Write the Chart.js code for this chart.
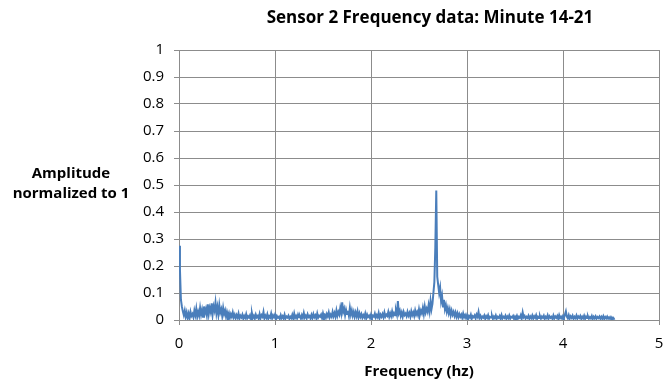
<!DOCTYPE html>
<html>
<head>
<meta charset="utf-8">
<script src="https://cdn.jsdelivr.net/npm/chart.js@4"></script>
<style>
  html, body { margin: 0; padding: 0; background: #fff; }
  #wrap { width: 667px; height: 383px; position: relative; }
</style>
</head>
<body>
<div id="wrap"><canvas id="freqChart"></canvas></div>
<script>
const CHART_TITLE = 'Sensor 2 Frequency data: Minute 14-21';
const Y_TITLE = ['Amplitude', 'normalized to 1'];
const X_TITLE = 'Frequency (hz)';

const X_TICKS = [0, 1, 2, 3, 4, 5];
const Y_TICKS = [0, 0.1, 0.2, 0.3, 0.4, 0.5, 0.6, 0.7, 0.8, 0.9, 1];

// spacing between frequency bins (hz)
const FREQ_STEP = 0.01;

// amplitude per bin, one array per 1 hz band
const AMP_0_1 = [
  0.275, 0.185, 0.075, 0.05, 0.032, 0.018, 0.035, 0.012, 0.028, 0.008,
  0.024, 0.006, 0.03, 0.015, 0.022, 0.01, 0.035, 0.018, 0.042, 0.012,
  0.03, 0.016, 0.045, 0.02, 0.038, 0.012, 0.05, 0.025, 0.04, 0.018,
  0.058, 0.022, 0.045, 0.03, 0.062, 0.02, 0.05, 0.035, 0.065, 0.025,
  0.048, 0.02, 0.055, 0.028, 0.04, 0.015, 0.045, 0.022, 0.035, 0.012,
  0.03, 0.015, 0.026, 0.008, 0.022, 0.012, 0.028, 0.01, 0.02, 0.006,
  0.018, 0.009, 0.024, 0.005, 0.016, 0.01, 0.02, 0.004, 0.015, 0.008,
  0.022, 0.006, 0.014, 0.009, 0.018, 0.004, 0.025, 0.008, 0.016, 0.005,
  0.02, 0.01, 0.015, 0.004, 0.022, 0.007, 0.018, 0.012, 0.03, 0.006,
  0.016, 0.008, 0.021, 0.004, 0.014, 0.009, 0.024, 0.006, 0.017, 0.01
];
const AMP_1_2 = [
  0.02, 0.005, 0.015, 0.008, 0.012, 0.004, 0.018, 0.007, 0.014, 0.005,
  0.02, 0.006, 0.013, 0.009, 0.016, 0.004, 0.012, 0.007, 0.019, 0.005,
  0.024, 0.008, 0.015, 0.006, 0.02, 0.01, 0.014, 0.005, 0.018, 0.008,
  0.026, 0.009, 0.016, 0.006, 0.021, 0.011, 0.015, 0.005, 0.019, 0.008,
  0.022, 0.01, 0.017, 0.006, 0.024, 0.009, 0.016, 0.012, 0.02, 0.007,
  0.025, 0.011, 0.018, 0.008, 0.022, 0.013, 0.028, 0.01, 0.02, 0.012,
  0.03, 0.014, 0.026, 0.012, 0.035, 0.016, 0.03, 0.02, 0.045, 0.025,
  0.065, 0.03, 0.042, 0.018, 0.038, 0.022, 0.034, 0.015, 0.045, 0.02,
  0.036, 0.016, 0.03, 0.012, 0.028, 0.014, 0.032, 0.01, 0.025, 0.012,
  0.022, 0.008, 0.018, 0.01, 0.024, 0.006, 0.02, 0.011, 0.016, 0.007
];
const AMP_2_3 = [
  0.02, 0.008, 0.016, 0.012, 0.024, 0.009, 0.018, 0.01, 0.026, 0.008,
  0.02, 0.012, 0.022, 0.01, 0.028, 0.013, 0.02, 0.015, 0.03, 0.012,
  0.025, 0.014, 0.032, 0.016, 0.026, 0.018, 0.035, 0.02, 0.07, 0.025,
  0.035, 0.015, 0.028, 0.012, 0.03, 0.018, 0.024, 0.014, 0.03, 0.016,
  0.026, 0.012, 0.032, 0.018, 0.028, 0.015, 0.035, 0.02, 0.03, 0.018,
  0.04, 0.02, 0.035, 0.025, 0.045, 0.022, 0.05, 0.028, 0.042, 0.03,
  0.055, 0.032, 0.07, 0.04, 0.06, 0.1, 0.14, 0.27, 0.48, 0.16,
  0.13, 0.1, 0.12, 0.07, 0.09, 0.05, 0.075, 0.04, 0.055, 0.03,
  0.045, 0.025, 0.04, 0.018, 0.035, 0.02, 0.03, 0.015, 0.028, 0.012,
  0.025, 0.01, 0.022, 0.012, 0.02, 0.008, 0.024, 0.01, 0.018, 0.007
];
const AMP_3_4 = [
  0.018, 0.006, 0.015, 0.009, 0.02, 0.005, 0.014, 0.01, 0.017, 0.006,
  0.02, 0.012, 0.03, 0.008, 0.016, 0.005, 0.013, 0.009, 0.017, 0.004,
  0.014, 0.008, 0.018, 0.005, 0.012, 0.009, 0.016, 0.004, 0.013, 0.007,
  0.017, 0.005, 0.012, 0.008, 0.015, 0.004, 0.018, 0.006, 0.012, 0.008,
  0.016, 0.004, 0.013, 0.007, 0.017, 0.005, 0.012, 0.009, 0.015, 0.004,
  0.013, 0.007, 0.016, 0.005, 0.012, 0.008, 0.018, 0.006, 0.028, 0.01,
  0.015, 0.005, 0.012, 0.008, 0.016, 0.004, 0.013, 0.007, 0.017, 0.005,
  0.014, 0.008, 0.018, 0.004, 0.012, 0.007, 0.015, 0.005, 0.013, 0.008,
  0.016, 0.004, 0.012, 0.007, 0.018, 0.005, 0.014, 0.008, 0.012, 0.004,
  0.017, 0.006, 0.013, 0.008, 0.015, 0.004, 0.018, 0.007, 0.012, 0.005
];
const AMP_4_5 = [
  0.015, 0.008, 0.02, 0.032, 0.012, 0.006, 0.018, 0.005, 0.014, 0.008,
  0.016, 0.004, 0.012, 0.007, 0.017, 0.005, 0.013, 0.008, 0.015, 0.004,
  0.012, 0.006, 0.016, 0.004, 0.013, 0.007, 0.014, 0.005, 0.011, 0.006,
  0.015, 0.004, 0.012, 0.006, 0.014, 0.005, 0.011, 0.007, 0.013, 0.004,
  0.012, 0.005, 0.014, 0.004, 0.011, 0.006, 0.013, 0.005, 0.01, 0.004,
  0.011, 0.005, 0.009, 0.004, 0.006
];

const amplitudes = [...AMP_0_1, ...AMP_1_2, ...AMP_2_3, ...AMP_3_4, ...AMP_4_5];
const points = amplitudes.map((a, i) => ({ x: +(i * FREQ_STEP).toFixed(2), y: a }));

const GRID = '#8c8c8c';
const TICK_FONT = { family: 'Open Sans', size: 15 };

// Excel puts the y title flat, left of the axis, and the title off-centre
const excelText = {
  id: 'excelText',
  afterDraw(chart) {
    const ctx = chart.ctx;
    ctx.save();
    ctx.fillStyle = '#000';
    ctx.textAlign = 'center';
    ctx.textBaseline = 'middle';
    ctx.font = 'bold 17px "Open Sans"';
    ctx.fillText(CHART_TITLE, 430, 18);
    ctx.font = 'bold 15px "Open Sans"';
    ctx.fillText(Y_TITLE[0], 71, 174);
    ctx.fillText(Y_TITLE[1], 71, 194);
    ctx.restore();
  }
};

new Chart(document.getElementById('freqChart'), {
  type: 'line',
  data: {
    datasets: [{
      data: points,
      borderColor: '#4a7ebb',
      borderWidth: 2,
      pointRadius: 0,
      tension: 0,
      fill: false,
    }],
  },
  options: {
    responsive: true,
    maintainAspectRatio: false,
    animation: false,
    layout: { padding: { top: 50, right: 8, left: 0, bottom: 0 } },
    plugins: { legend: { display: false }, tooltip: { enabled: false } },
    scales: {
      x: {
        type: 'linear',
        min: 0,
        max: 5,
        // keep the label padding from shrinking the plot; layout padding handles it
        afterFit: s => { s.height = 63; s.paddingLeft = 0; s.paddingRight = 0; },
        afterBuildTicks: s => { s.ticks = X_TICKS.map(v => ({ value: v })); },
        grid: { color: GRID, tickLength: 5 },
        border: { color: GRID },
        ticks: { font: TICK_FONT, color: '#000', padding: 10, maxRotation: 0, callback: v => String(v) },
        title: {
          display: true,
          text: X_TITLE,
          color: '#000',
          font: { family: 'Open Sans', size: 15, weight: 'bold' },
          padding: { top: 0, bottom: 2 },
        },
      },
      y: {
        min: 0,
        max: 1,
        afterFit: s => { s.width = 179; s.paddingTop = 0; s.paddingBottom = 0; },
        afterBuildTicks: s => { s.ticks = Y_TICKS.map(v => ({ value: v })); },
        grid: { color: GRID, tickLength: 5 },
        border: { color: GRID },
        ticks: { font: TICK_FONT, color: '#000', padding: 10, callback: v => String(v) },
      },
    },
  },
  plugins: [excelText],
});
</script>
</body>
</html>
